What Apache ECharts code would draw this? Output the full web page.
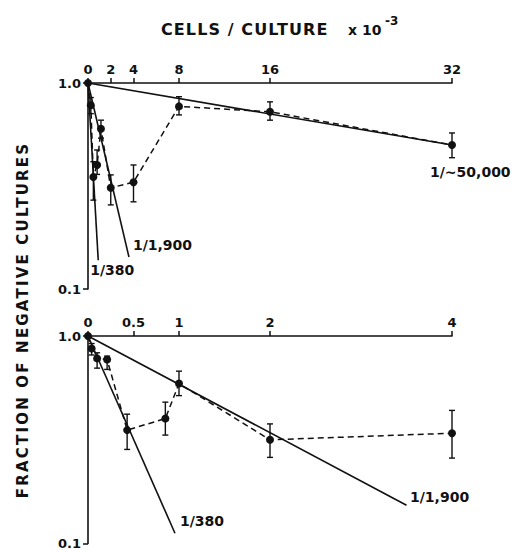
<!DOCTYPE html>
<html>
<head>
<meta charset="utf-8">
<script src="https://cdn.jsdelivr.net/npm/echarts@6/dist/echarts.min.js"></script>
<style>
html,body{margin:0;padding:0;background:#fff;}
#c{width:522px;height:550px;}
</style>
</head>
<body>
<div id="c"></div>
<script>
// ---- data (cells per culture x 10^-3, fraction of negative cultures) ----
const topTicks = [0, 2, 4, 8, 16, 32];
const botTicks = [0, 0.5, 1, 2, 4];
const yTicks = [0.1, 1];

const topCells = [0, 0.25, 0.47, 0.8, 1.14, 2, 4, 8, 16, 32];
const topFrac  = [1.0, 0.78, 0.35, 0.40, 0.60, 0.31, 0.33, 0.77, 0.725, 0.50];
const topLow   = [null, 0.71, 0.27, 0.36, 0.54, 0.256, 0.265, 0.70, 0.66, 0.434];
const topHigh  = [null, 0.85, 0.415, 0.473, 0.66, 0.358, 0.40, 0.858, 0.81, 0.572];

const botCells = [0, 0.04, 0.1, 0.21, 0.43, 0.85, 1.0, 2, 4];
const botFrac  = [1.0, 0.87, 0.78, 0.77, 0.352, 0.40, 0.59, 0.316, 0.34];
const botLow   = [null, 0.81, 0.70, 0.69, 0.284, 0.333, 0.516, 0.26, 0.258];
const botHigh  = [null, 0.92, 0.83, 0.80, 0.42, 0.48, 0.677, 0.377, 0.438];

const topFitLabels = ['1/~50,000', '1/1,900', '1/380'];
const topFitEndX   = [32, 3.6, 0.9];
const topFitEndY   = [0.5, 0.143, 0.138];
const botFitLabels = ['1/380', '1/1,900'];
const botFitEndX   = [0.956, 3.5];
const botFitEndY   = [0.112, 0.153];

// ---- layout / style ----
const topLabelOffsets = [[-22, 20], [4, -19], [-8, 3]];
const botLabelOffsets = [[5, -19], [3.5, -15]];
const INK = '#111';
const FF = '"DejaVu Sans", sans-serif';

const chart = echarts.init(document.getElementById('c'), null, {renderer: 'svg'});

function xAxisCfg(gi, max, ticks) {
  return {
    type: 'value', gridIndex: gi, position: 'top', min: 0, max: max,
    axisLine: {show: true, onZero: false, lineStyle: {color: INK, width: 1.6}},
    axisTick: {show: true, length: 5, customValues: ticks, lineStyle: {color: INK, width: 1.5}},
    axisLabel: {customValues: ticks, margin: 7, color: INK, fontFamily: FF, fontWeight: 'bold', fontSize: 13,
                showMinLabel: true, showMaxLabel: true},
    splitLine: {show: false}
  };
}
function yAxisCfg(gi) {
  return {
    type: 'log', logBase: 10, gridIndex: gi, min: 0.1, max: 1,
    axisLine: {show: true, onZero: false, lineStyle: {color: INK, width: 1.6}},
    axisTick: {show: true, length: 5, customValues: yTicks, lineStyle: {color: INK, width: 1.5}},
    axisLabel: {customValues: yTicks, margin: 7, color: INK, fontFamily: FF, fontWeight: 'bold', fontSize: 13,
                formatter: v => Number(v).toFixed(1), showMinLabel: true, showMaxLabel: true},
    splitLine: {show: false}, minorTick: {show: false}
  };
}

function errRender(params, api) {
  const x = api.value(0), lo = api.value(1), hi = api.value(2);
  const a = api.coord([x, hi]), b = api.coord([x, lo]);
  const w = 3, st = {stroke: INK, lineWidth: 1.4};
  return {type: 'group', children: [
    {type: 'line', shape: {x1: a[0], y1: a[1], x2: b[0], y2: b[1]}, style: st},
    {type: 'line', shape: {x1: a[0] - w, y1: a[1], x2: a[0] + w, y2: a[1]}, style: st},
    {type: 'line', shape: {x1: b[0] - w, y1: b[1], x2: b[0] + w, y2: b[1]}, style: st}
  ]};
}
function labelRender(labels, offsets) {
  return function (params, api) {
    const p = api.coord([api.value(0), api.value(1)]);
    const o = offsets[params.dataIndex];
    return {type: 'text', x: p[0] + o[0], y: p[1] + o[1],
      style: {text: labels[params.dataIndex], fill: INK, font: 'bold 14px ' + FF,
              align: 'left', verticalAlign: 'top'}};
  };
}

function panelSeries(gi, cells, frac, low, high, fitLabels, fitX, fitY, offsets) {
  const s = [];
  s.push({
    type: 'line', xAxisIndex: gi, yAxisIndex: gi, clip: false, z: 3,
    data: cells.map((x, i) => [x, frac[i]]),
    symbol: 'circle', symbolSize: 8, showSymbol: true,
    itemStyle: {color: INK},
    lineStyle: {color: INK, width: 1.5, type: [6, 4]}
  });
  s.push({
    type: 'custom', xAxisIndex: gi, yAxisIndex: gi, clip: false, z: 2,
    renderItem: errRender,
    encode: {x: 0, y: [1, 2]},
    data: cells.map((x, i) => [x, low[i], high[i]]).filter(d => d[1] != null)
  });
  fitLabels.forEach((lab, k) => {
    s.push({
      type: 'line', xAxisIndex: gi, yAxisIndex: gi, clip: false, z: 2,
      data: [[0, 1], [fitX[k], fitY[k]]],
      symbol: 'none', lineStyle: {color: INK, width: 1.6, type: 'solid'}
    });
  });
  s.push({
    type: 'custom', xAxisIndex: gi, yAxisIndex: gi, clip: false, z: 4,
    renderItem: labelRender(fitLabels, offsets),
    encode: {x: 0, y: 1},
    data: fitLabels.map((l, k) => [fitX[k], fitY[k]])
  });
  return s;
}

chart.setOption({
  animation: false,
  backgroundColor: '#fff',
  grid: [
    {left: 88, top: 83, width: 364, height: 206},
    {left: 88, top: 336, width: 364, height: 211}
  ],
  xAxis: [xAxisCfg(0, 32, topTicks), xAxisCfg(1, 4, botTicks)],
  yAxis: [yAxisCfg(0), yAxisCfg(1)],
  series: [].concat(
    panelSeries(0, topCells, topFrac, topLow, topHigh, topFitLabels, topFitEndX, topFitEndY, topLabelOffsets),
    panelSeries(1, botCells, botFrac, botLow, botHigh, botFitLabels, botFitEndX, botFitEndY, botLabelOffsets)
  ),
  graphic: [
    {type: 'text', x: 161, y: 29.5, style: {text: 'CELLS / CULTURE', fill: INK, font: 'bold 16px ' + FF, align: 'left', verticalAlign: 'middle'}},
    {type: 'text', x: 348, y: 29.5, style: {text: 'x 10', fill: INK, font: 'bold 14px ' + FF, align: 'left', verticalAlign: 'middle'}},
    {type: 'text', x: 385, y: 21, style: {text: '-3', fill: INK, font: 'bold 12px ' + FF, align: 'left', verticalAlign: 'middle'}},
    {type: 'text', x: 22.5, y: 320, rotation: Math.PI / 2,
     style: {text: 'FRACTION OF NEGATIVE CULTURES', fill: INK, font: 'bold 15px ' + FF, align: 'center', verticalAlign: 'middle'}}
  ]
});

// widen letter spacing of the two axis titles, as in the original lettering
function spaceOut() {
  const texts = document.querySelectorAll('#c text');
  texts.forEach(t => {
    const s = t.textContent;
    if (s === 'FRACTION OF NEGATIVE CULTURES') t.setAttribute('letter-spacing', '2.2');
    else if (s === 'CELLS / CULTURE') t.setAttribute('letter-spacing', '1.1');
  });
}
spaceOut();
chart.on('finished', spaceOut);
</script>
</body>
</html>
